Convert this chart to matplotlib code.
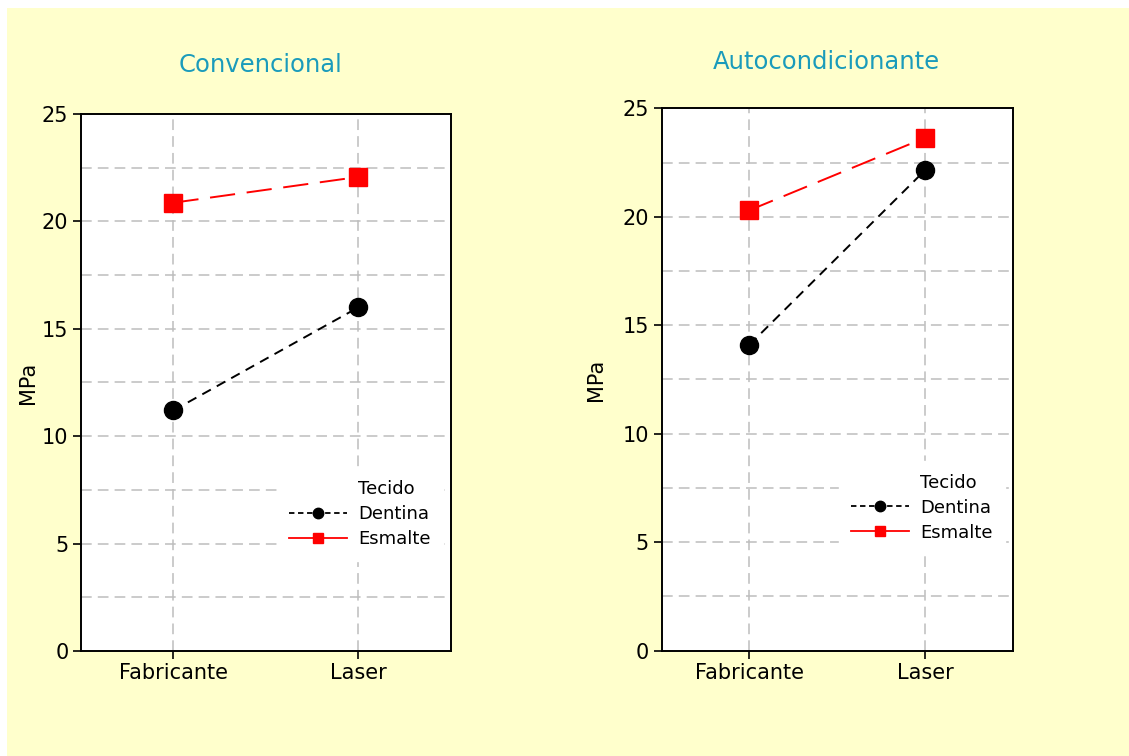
import matplotlib.pyplot as plt
from matplotlib.lines import Line2D
from matplotlib.patches import Rectangle
import numpy as np

# dados
categorias = ["Fabricante", "Laser"]
titulos = ["Convencional", "Autocondicionante"]
dentina = [[11.2, 16.0], [14.1, 22.15]]
esmalte = [[20.87, 22.07], [20.3, 23.64]]
yticks = [0, 5, 10, 15, 20, 25]

plt.rcParams['font.family'] = ['DejaVu Sans']

fig = plt.figure(figsize=(11.29, 7.56), dpi=100, facecolor="white")
fig.patches.append(Rectangle((7 / 1129, 0), 1, 1 - 8 / 756, transform=fig.transFigure,
                             facecolor="#ffffcc", edgecolor="none", zorder=-10))

posicoes = [[0.0717, 0.1389, 0.3277, 0.7103], [0.586, 0.1393, 0.3113, 0.7175]]
legendas = [(0.505, 0.358), (0.478, 0.366)]
titulo_pad = [30.5, 28]
titulo_x = [0.484, 0.468]
ylabel_x = [-0.115, -0.157]

x = np.arange(len(categorias))
for i in range(2):
    ax = fig.add_axes(posicoes[i])
    ax.set_facecolor("white")
    ax.set_xlim(-0.5, 1.5)
    ax.set_ylim(0, 25)
    ax.set_yticks(yticks)
    ax.set_yticks(np.arange(2.5, 25, 5), minor=True)
    ax.set_xticks(x)
    ax.set_xticklabels(categorias)
    ax.grid(True, which="both", color="#bdbdbd", linestyle=(0, (7, 4)), linewidth=1.1)
    ax.set_axisbelow(True)
    ax.tick_params(which="minor", length=0)
    ax.tick_params(which="major", direction="out", length=6, width=1.2, labelsize=15, pad=3)
    for s in ax.spines.values():
        s.set_linewidth(1.4)

    ax.plot(x, dentina[i], color="black", linestyle=(0, (5, 3.5)), linewidth=1.4,
            marker="o", markersize=13, zorder=3)
    ax.plot(x, esmalte[i], color="red", linestyle=(0, (13, 6)), linewidth=1.4,
            marker="s", markersize=12.5, zorder=3)

    ax.set_ylabel("MPa", fontsize=15)
    ax.yaxis.set_label_coords(ylabel_x[i], 0.5)
    ax.set_title(titulos[i], color="#1a9bbb", fontsize=17.5, pad=titulo_pad[i], x=titulo_x[i])

    handles = [
        Line2D([], [], linestyle="none"),
        Line2D([], [], color="black", linestyle=(0, (3, 2)), linewidth=1.3, marker="o", markersize=7.5),
        Line2D([], [], color="red", linestyle="-", linewidth=1.3, marker="s", markersize=6.5),
    ]
    leg = ax.legend(handles, ["Tecido", "Dentina", "Esmalte"], loc="upper left",
                    bbox_to_anchor=legendas[i], fontsize=13, frameon=True, framealpha=1,
                    facecolor="white", edgecolor="white", fancybox=False, borderpad=0.7,
                    handlelength=3.2, handletextpad=0.6, labelspacing=0.38)
    leg.set_zorder(2)

fig.savefig("out.png", dpi=100, facecolor=fig.get_facecolor())
